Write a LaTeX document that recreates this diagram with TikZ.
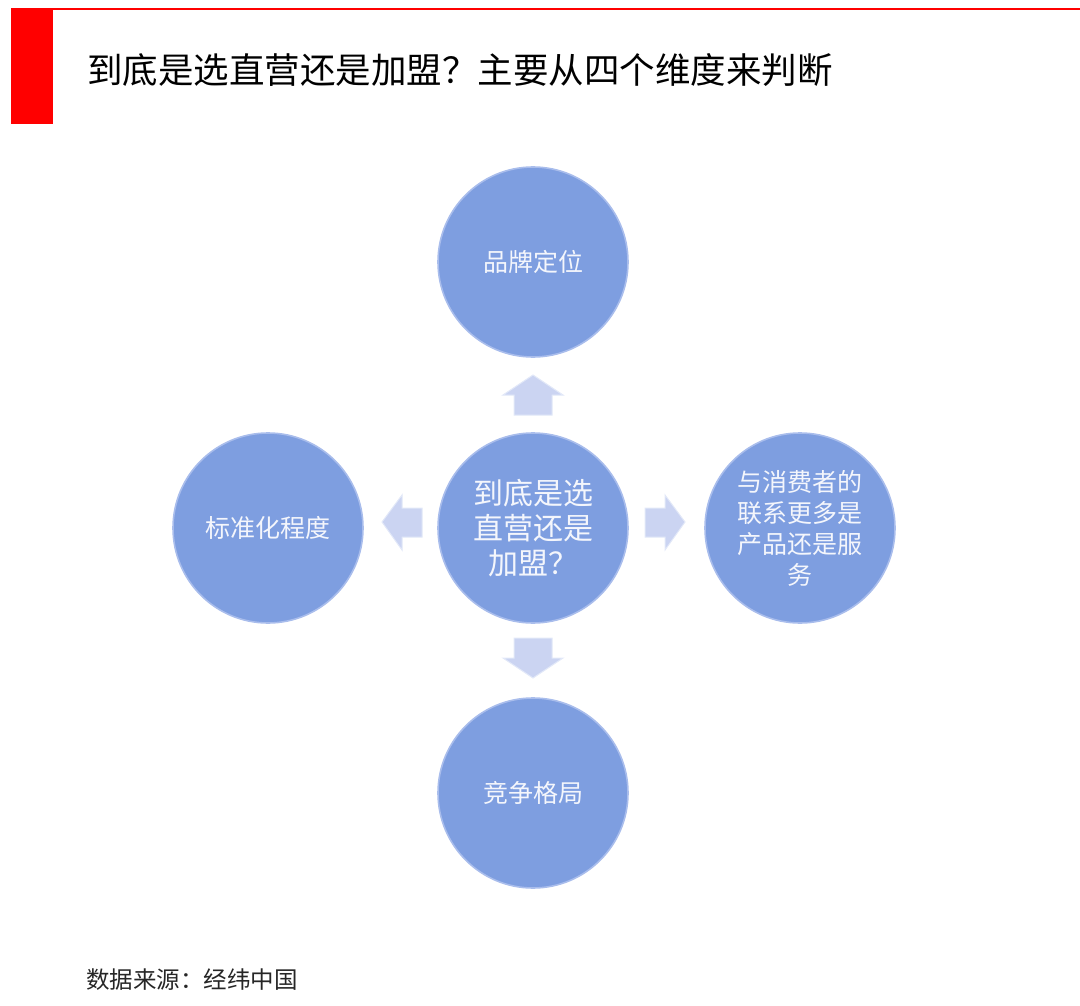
\documentclass[tikz,border=0pt]{standalone}
\usepackage{fontspec}
\setmainfont{Noto Sans CJK SC}
\definecolor{redbar}{HTML}{FF0000}
\definecolor{circfill}{HTML}{7E9EE0}
\definecolor{circedge}{HTML}{A9BDEC}
\definecolor{arrfill}{HTML}{CBD4F2}
\definecolor{arredge}{HTML}{E2E8F8}
\definecolor{txtwhite}{HTML}{F4F6FC}
\begin{document}
\begin{tikzpicture}[x=1pt,y=-1pt,
  dim/.style={circle, minimum size=190pt, inner sep=0pt, fill=circfill, draw=circedge, line width=1.6pt,
     text=txtwhite, align=center, font=\fontsize{25}{31}\selectfont},
  blockarrow/.style={fill=arrfill, draw=arredge, line width=1pt, line join=miter}]
\useasboundingbox (0,0) rectangle (1080,1006);
% header
\draw[redbar, line width=1.5pt] (11,9) -- (1080,9);
\fill[redbar] (11,9) rectangle (53,124);
\node[anchor=west, inner sep=0pt, font=\fontsize{35.5}{40}\selectfont] (title) at (87,70) {到底是选直营还是加盟？主要从四个维度来判断};
% circles
\node[dim] (top) at (533,262) {品牌定位};
\node[dim, font=\fontsize{30}{35}\selectfont] (center) at (533,528) {到底是选\\直营还是\\加盟？};
\node[dim] (left) at (268,528) {标准化程度};
\node[dim] (right) at (800,528) {与消费者的\\联系更多是\\产品还是服\\务};
\node[dim] (bottom) at (533,793) {竞争格局};
% block arrows
\coordinate (up) at (533,395);
\coordinate (dn) at (533,658);
\coordinate (lf) at (402,522);
\coordinate (rt) at (665,522);
\draw[blockarrow] (up) ++(0,-20) -- ++(30,20) -- ++(-11,0) -- ++(0,20) -- ++(-38,0) -- ++(0,-20) -- ++(-11,0) -- cycle;
\draw[blockarrow] (dn) ++(0,20) -- ++(30,-20) -- ++(-11,0) -- ++(0,-20) -- ++(-38,0) -- ++(0,20) -- ++(-11,0) -- cycle;
\draw[blockarrow] (lf) ++(-20,0) -- ++(20,-27) -- ++(0,13) -- ++(20,0) -- ++(0,29) -- ++(-20,0) -- ++(0,13) -- cycle;
\draw[blockarrow] (rt) ++(20,0) -- ++(-20,-27) -- ++(0,13) -- ++(-20,0) -- ++(0,29) -- ++(20,0) -- ++(0,13) -- cycle;
% footer
\node[anchor=west, inner sep=0pt, font=\fontsize{23.5}{26}\selectfont, text=black!85] (src) at (86,980) {数据来源：经纬中国};
\end{tikzpicture}
\end{document}
